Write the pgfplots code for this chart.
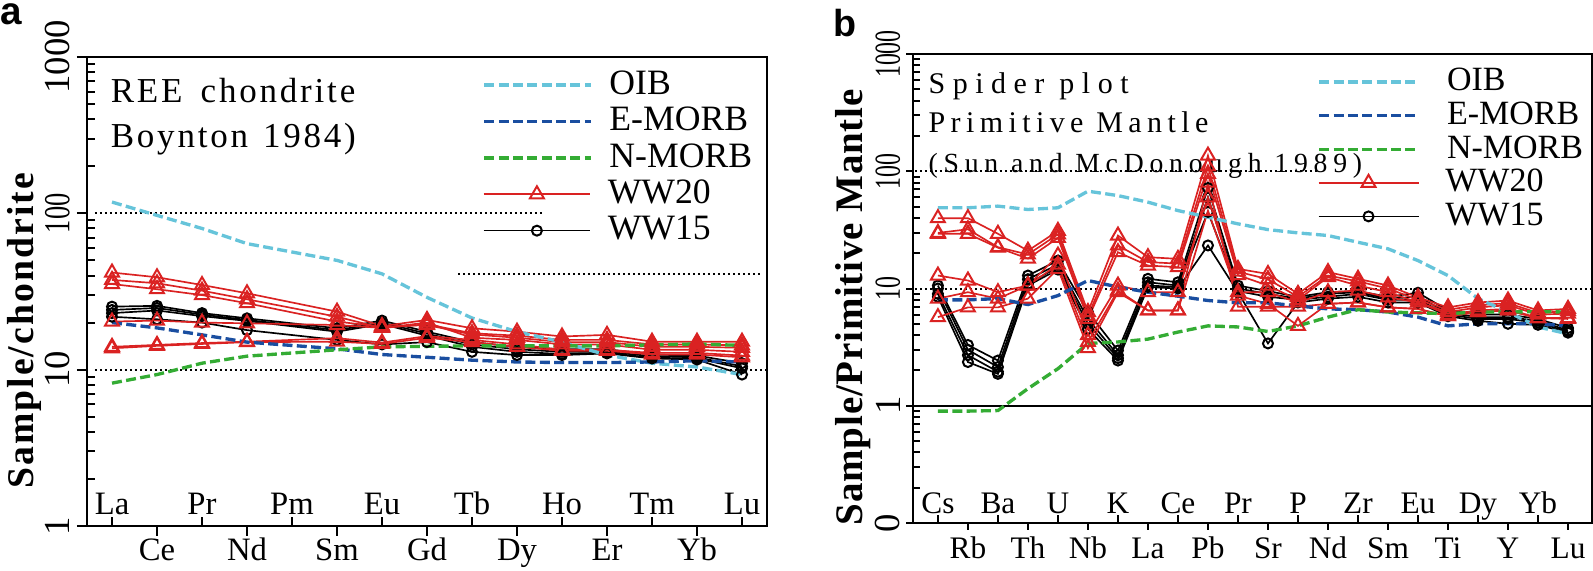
\documentclass[border=0pt]{standalone}
\usepackage{fontspec}
\setmainfont{Liberation Serif}
\newfontfamily\sansb{Liberation Sans}
\newfontfamily\lsA[LetterSpace=8]{Liberation Serif}
\newfontfamily\lsB[LetterSpace=18]{Liberation Serif}
\newfontfamily\lsBB[LetterSpace=25]{Liberation Serif}
\newfontfamily\lsBs[LetterSpace=21]{Liberation Serif}
\newfontfamily\lsYa[LetterSpace=5.5]{Liberation Serif}
\newfontfamily\lsYb[LetterSpace=2]{Liberation Serif}
\usepackage{graphicx}
\usepackage{pgfplots}
\pgfplotsset{compat=1.18}
\definecolor{oib}{RGB}{102,196,218}
\definecolor{emorb}{RGB}{26,78,160}
\definecolor{nmorb}{RGB}{52,172,52}
\definecolor{wwred}{RGB}{218,34,34}
\tikzset{
 refline/.style={line width=1pt, dash pattern=on 3pt off 1.3pt},
 oibs/.style={refline, color=oib},
 emorbs/.style={refline, color=emorb},
 nmorbs/.style={refline, color=nmorb},
 ww20/.style={color=wwred, line width=0.5pt, mark=triangle, mark size=2.4pt, mark options={solid, line width=0.6pt}},
 ww15/.style={color=black, line width=0.5pt, mark=o, mark size=1.5pt, mark options={solid, line width=0.6pt}},
 gdot/.style={black, line width=0.6pt, dash pattern=on 0.6pt off 0.9pt},
}
\pgfplotsset{
 mybase/.style={
  scale only axis, anchor=south west,
  axis line style={line width=0.75pt},
  tick style={black, line width=0.6pt},
  tick align=outside, xtick pos=bottom, ytick pos=left,
  yminorticks=false,
  /pgf/number format/assume math mode=true,
  major tick length=3pt,
 },
 legaxA/.style={at={(26.1pt,13.2pt)}, anchor=south west, scale only axis, width=204pt, height=140.7pt,
   hide axis, xmin=0, xmax=1, ymin=0, ymax=1, legend cell align=left,
   legend style={at={(axis description cs:0.581,#1)}, anchor=west, draw=none, fill=none, inner sep=0pt,
     font=\fontsize{10.7}{12}\selectfont, nodes={inner sep=0pt},
     /tikz/every odd column/.append style={column sep=5pt}},
   legend image code/.code={\draw[mark repeat=2,mark phase=2,##1] plot coordinates {(0pt,0pt) (16pt,0pt) (32pt,0pt)};}},
 legaxB/.style={at={(273.9pt,14.1pt)}, anchor=south west, scale only axis, width=203.7pt, height=140.7pt,
   hide axis, xmin=0, xmax=1, ymin=0, ymax=1, legend cell align=left,
   legend style={at={(axis description cs:0.595,#1)}, anchor=west, draw=none, fill=none, inner sep=0pt,
     font=\fontsize{10.2}{11}\selectfont, nodes={inner sep=0pt},
     /tikz/every odd column/.append style={column sep=7.8pt}},
   legend image code/.code={\draw[mark repeat=2,mark phase=2,##1] plot coordinates {(0pt,0pt) (15pt,0pt) (30pt,0pt)};}},
}
\begin{document}
\begin{tikzpicture}
\useasboundingbox (0,0) rectangle (477.9pt,171pt);
% panel labels
\node[anchor=base west, inner sep=0pt, text height=6pt, font=\sansb\bfseries\fontsize{11.6}{12}\selectfont] at (0pt,163.6pt) {a};
\node[anchor=base west, inner sep=0pt, text height=8pt, font=\sansb\bfseries\fontsize{11.3}{12}\selectfont] at (249.9pt,159.9pt) {b};

% ---------------- panel a ----------------
\begin{axis}[mybase, ymode=log,
 at={(26.1pt,13.2pt)}, width=204pt, height=140.7pt,
 xmin=-0.556, xmax=14.556, ymin=1, ymax=1000,
 ytick={1,10,100,1000}, yticklabels={1,10,\scalebox{0.72}[1]{100},1000},
 yticklabel style={rotate=90, anchor=south, font=\fontsize{11}{12}\selectfont, inner sep=2pt},
 extra y ticks={2,3,4,5,6,7,8,9,20,30,40,50,60,70,80,90,200,300,400,500,600,700,800,900},
 extra y tick labels={},
 extra y tick style={tick align=inside, major tick length=2.4pt},
 xtick={1,3,5,7,9,11,13}, xticklabels={Ce,Nd,Sm,Gd,Dy,Er,Yb},
 xticklabel style={anchor=base, yshift=-7.5pt, font=\fontsize{9.8}{11}\selectfont},
 extra x ticks={0,2,4,6,8,10,12,14}, extra x tick labels={La,Pr,Pm,Eu,Tb,Ho,Tm,Lu},
 extra x tick style={tick align=inside, major tick length=2.7pt, xticklabel style={yshift=11.1pt}},
 ylabel={Sample/chondrite},
 every axis y label/.style={at={(axis description cs:-0.0794,0.416)}, rotate=90, anchor=base, font=\lsYa\bfseries\fontsize{11.3}{12}\selectfont},
]
\draw[gdot] (axis cs:-0.38,10) -- (axis cs:14.55,10);
\draw[gdot] (axis cs:-0.38,100) -- (axis cs:9.58,100);
\draw[gdot] (axis cs:7.69,40.9) -- (axis cs:14.44,40.9);

% WW15
\addplot[ww15] coordinates {(0,25.3) (1,25.6) (2,23) (3,21.3) (5,18.4) (6,20.6) (7,17.5) (8,15) (9,14) (10,13.5) (11,13.5) (12,12.5) (13,12.3) (14,11)};
\addplot[ww15] coordinates {(0,24.1) (1,24.8) (2,22.5) (3,20.8) (5,17.9) (6,20) (7,17) (8,14.5) (9,13.5) (10,13) (11,13) (12,12.2) (13,12) (14,10.5)};
\addplot[ww15] coordinates {(0,23) (1,23.9) (2,22) (3,20.5) (5,17.5) (6,19.6) (7,16.5) (8,14) (9,13) (10,12.6) (11,12.8) (12,11.9) (13,11.8) (14,10.2)};
\addplot[ww15] coordinates {(0,21.8) (1,21) (2,20) (3,17.9) (5,15.5) (6,14.5) (7,15) (8,13) (9,12.4) (10,12.4) (11,12.7) (12,11.8) (13,11.6) (14,9.3)};
% WW20
\addplot[ww20] coordinates {(0,41.8) (1,39) (2,34.8) (3,30.8) (5,23.5) (6,19) (7,20.8) (8,18.4) (9,17.5) (10,16.3) (11,16.7) (12,15.1) (13,15.1) (14,15.1)};
\addplot[ww20] coordinates {(0,37.5) (1,35.7) (2,32) (3,28.2) (5,21.8) (6,18.5) (7,19.5) (8,17.1) (9,16.5) (10,15.5) (11,15.5) (12,14.5) (13,14.5) (14,14.3)};
\addplot[ww20] coordinates {(0,35.3) (1,32.7) (2,30) (3,26.6) (5,20.3) (6,18.8) (7,19.3) (8,16.8) (9,16) (10,15) (11,15) (12,14) (13,14) (14,13.8)};
\addplot[ww20] coordinates {(0,20.3) (1,20.6) (2,20) (3,19.8) (5,19.3) (6,18.5) (7,20) (8,16) (9,15.5) (10,14.5) (11,14.5) (12,13.4) (13,13.4) (14,13)};
\addplot[ww20] coordinates {(0,14.0) (1,14.4) (2,14.8) (3,15.1) (5,15.9) (6,14.9) (7,16.4) (8,15.5) (9,14.5) (10,13.4) (11,13.4) (12,12.8) (13,12.8) (14,12.3)};
\addplot[ww20] coordinates {(0,13.7) (1,14.2) (2,14.6) (3,15.0) (5,15.1) (6,14.6) (7,16) (8,15) (9,14) (10,13.2) (11,13.2) (12,12.5) (13,12.5) (14,12)};
% references
\addplot[oibs] coordinates {(0,118) (1,97) (2,80) (3,64) (5,50) (6,41) (7,29) (8,21.4) (9,17.5) (10,15) (11,12.4) (12,11) (13,10.4) (14,9.3)};
\addplot[emorbs] coordinates {(0,20) (1,18.5) (2,16.7) (3,15) (5,13.6) (6,12.5) (7,12) (8,11.5) (9,11.2) (10,11.1) (11,11.1) (12,11.2) (13,11.4) (14,11.2)};
\addplot[nmorbs] coordinates {(0,8.2) (1,9.3) (2,11) (3,12.2) (5,13.4) (6,14) (7,14.1) (8,14.2) (9,14.2) (10,14.2) (11,14.2) (12,14.4) (13,14.6) (14,14.3)};

\node[anchor=base west, inner sep=0pt, font=\lsA\fontsize{10.5}{12}\selectfont] at (axis description cs:0.034,0.902) {REE\hspace{2pt} chondrite};
\node[anchor=base west, inner sep=0pt, font=\lsA\fontsize{10.5}{12}\selectfont] at (axis description cs:0.034,0.808) {Boynton\hspace{1pt} 1984)};
\end{axis}
% legend a (one entry per hidden axis, to fix row positions)
\begin{axis}[legaxA=0.940]\addlegendimage{oibs}\addlegendentry{OIB}\end{axis}
\begin{axis}[legaxA=0.8624]\addlegendimage{emorbs}\addlegendentry{E-MORB}\end{axis}
\begin{axis}[legaxA=0.7849]\addlegendimage{nmorbs}\addlegendentry{N-MORB}\end{axis}
\begin{axis}[legaxA=0.7073]\addlegendimage{ww20}\addlegendentry{WW20}\end{axis}
\begin{axis}[legaxA=0.6297]\addlegendimage{ww15}\addlegendentry{WW15}\end{axis}

% ---------------- panel b ----------------
\begin{axis}[mybase, ymode=log,
 at={(273.9pt,14.1pt)}, width=203.7pt, height=140.7pt,
 xmin=-0.83, xmax=21.8, ymin=0.1, ymax=1000,
 major tick length=2.1pt,
 ytick={0.1,1,10,100,1000}, yticklabels={0,1,\scalebox{0.65}[1]{10},\scalebox{0.65}[1]{100},\scalebox{0.65}[1]{1000}},
 yticklabel style={rotate=90, anchor=south, font=\fontsize{11}{12}\selectfont, inner sep=1.5pt},
 extra y ticks={0.2,0.3,0.4,0.5,0.6,0.7,0.8,0.9,2,3,4,5,6,7,8,9,20,30,40,50,60,70,80,90,200,300,400,500,600,700,800,900},
 extra y tick labels={},
 extra y tick style={tick align=inside, major tick length=2.1pt},
 xtick={1,3,5,7,9,11,13,15,17,19,21}, xticklabels={Rb,Th,Nb,La,Pb,Sr,Nd,Sm,Ti,Y,Lu},
 xticklabel style={anchor=base, yshift=-8.7pt, font=\fontsize{9.4}{11}\selectfont},
 extra x ticks={0,2,4,6,8,10,12,14,16,18,20}, extra x tick labels={Cs,Ba,U,K,Ce,Pr,P,Zr,Eu,Dy,Yb},
 extra x tick style={tick align=inside, major tick length=2.4pt, xticklabel style={yshift=11.7pt}},
 ylabel={Sample/Primitive Mantle},
 every axis y label/.style={at={(axis description cs:-0.0751,0.46)}, rotate=90, anchor=base, font=\lsYb\bfseries\fontsize{11.7}{12}\selectfont},
]
\draw[gdot] (axis cs:-0.77,10) -- (axis cs:21.8,10);
\draw[gdot] (axis cs:-0.77,100) -- (axis cs:12.63,100);
\draw[black, line width=0.6pt] (axis cs:-0.83,1) -- (axis cs:21.8,1);

% WW15
\addplot[ww15] coordinates {(0,10.6) (1,3.3) (2,2.43) (3,12.9) (4,17.3) (5,6.3) (6,2.96) (7,12.1) (8,11.3) (9,72) (10,10.6) (11,9.5) (12,8.5) (13,9.3) (14,9.5) (15,8.5) (16,9.2) (17,6.5) (18,6.0) (19,6.0) (20,5.5) (21,4.6)};
\addplot[ww15] coordinates {(0,10.0) (1,3.0) (2,2.14) (3,12.0) (4,16) (5,5.5) (6,2.7) (7,11.3) (8,10.6) (9,60) (10,10.0) (11,9.0) (12,8.2) (13,9.0) (14,9.3) (15,8.2) (16,8.5) (17,6.2) (18,5.7) (19,5.7) (20,5.3) (21,4.4)};
\addplot[ww15] coordinates {(0,9.0) (1,2.7) (2,1.95) (3,11.0) (4,15.2) (5,5.0) (6,2.55) (7,10.6) (8,10.3) (9,45) (10,9.5) (11,8.5) (12,8.0) (13,8.5) (14,9.0) (15,8.0) (16,8.0) (17,6.0) (18,5.5) (19,5.5) (20,5.1) (21,4.3)};
\addplot[ww15] coordinates {(0,8.5) (1,2.36) (2,1.87) (3,10.6) (4,14.5) (5,4.5) (6,2.43) (7,10.3) (8,10.0) (9,23.3) (10,9.3) (11,3.4) (12,7.6) (13,8.2) (14,8.5) (15,7.6) (16,7.6) (17,5.8) (18,5.3) (19,5.0) (20,4.9) (21,4.2)};
% WW20
\addplot[ww20] coordinates {(0,39.8) (1,39.8) (2,29.3) (3,21) (4,31) (5,6.3) (6,28.3) (7,18.5) (8,17.9) (9,136) (10,14.7) (11,13.3) (12,9.0) (13,13.8) (14,12.1) (15,10.6) (16,8.4) (17,6.9) (18,7.6) (19,7.9) (20,6.5) (21,6.7)};
\addplot[ww20] coordinates {(0,29.8) (1,32) (2,22.5) (3,19.5) (4,29) (5,5.8) (6,23.3) (7,16.8) (8,16.3) (9,110) (10,13.9) (11,12.0) (12,8.5) (13,12.9) (14,11.5) (15,10.0) (16,8.0) (17,6.6) (18,7.2) (19,7.5) (20,6.2) (21,6.4)};
\addplot[ww20] coordinates {(0,29.3) (1,29.3) (2,22.3) (3,18) (4,27) (5,5.5) (6,20.4) (7,15.7) (8,15.2) (9,95) (10,13.0) (11,10.6) (12,8.0) (13,12.5) (14,10.6) (15,9.3) (16,7.6) (17,6.3) (18,6.9) (19,7.2) (20,6.0) (21,6.1)};
\addplot[ww20] coordinates {(0,12.9) (1,11.7) (2,9.3) (3,10.6) (4,19.1) (5,4.0) (6,10.6) (7,9.3) (8,9.3) (9,60) (10,9.3) (11,9.3) (12,7.6) (13,9.3) (14,9.6) (15,8.4) (16,7.6) (17,6.0) (18,6.5) (19,6.7) (20,5.6) (21,5.6)};
\addplot[ww20] coordinates {(0,8.2) (1,9.3) (2,8.2) (3,10.6) (4,16) (5,3.5) (6,9.6) (7,6.5) (8,6.5) (9,46) (10,8.7) (11,7.4) (12,4.8) (13,7.4) (14,7.6) (15,6.9) (16,6.7) (17,5.8) (18,6.3) (19,6.5) (20,5.6) (21,5.5)};
\addplot[ww20] coordinates {(0,5.7) (1,6.9) (2,6.9) (3,8.2) (4,14.7) (5,3.1) (6,9.3) (7,6.5) (8,6.5) (9,80) (10,7.0) (11,7.0) (12,7.0) (13,7.4) (14,7.6) (15,6.9) (16,6.7) (17,5.8) (18,6.3) (19,6.5) (20,5.6) (21,5.6)};
% references
\addplot[oibs] coordinates {(0,48.8) (1,48.8) (2,50.4) (3,47.2) (4,48.8) (5,67.6) (6,62) (7,54.5) (8,46.2) (9,40.6) (10,35.6) (11,31.8) (12,29.8) (13,28.3) (14,24.8) (15,21.8) (16,17.3) (17,12.9) (18,8.2) (19,6.3) (20,4.7) (21,4.1)};
\addplot[emorbs] coordinates {(0,8.0) (1,8.0) (2,8.2) (3,7.3) (4,8.7) (5,11.7) (6,10.3) (7,9.3) (8,8.6) (9,7.9) (10,7.55) (11,7.55) (12,7.1) (13,6.7) (14,6.6) (15,6.3) (16,5.7) (17,4.8) (18,5.0) (19,5.0) (20,5.0) (21,4.8)};
\addplot[nmorbs] coordinates {(0,0.9) (1,0.9) (2,0.91) (3,1.4) (4,2.07) (5,3.4) (6,3.5) (7,3.7) (8,4.25) (9,4.8) (10,4.7) (11,4.3) (12,4.8) (13,5.7) (14,6.6) (15,6.3) (16,6.2) (17,6.1) (18,6.3) (19,6.3) (20,6.35) (21,6.3)};

\node[anchor=base west, inner sep=0pt, font=\lsBB\fontsize{9}{11}\selectfont] at (axis description cs:0.022,0.915) {Spider plot};
\node[anchor=base west, inner sep=0pt, font=\lsB\fontsize{9}{11}\selectfont] at (axis description cs:0.022,0.832) {Primitive Mantle};
\node[anchor=base west, inner sep=0pt, font=\lsBs\fontsize{8.3}{9}\selectfont] at (axis description cs:0.022,0.748) {(Sun and McDonough 1989)};
\end{axis}
% legend b
\begin{axis}[legaxB=0.940]\addlegendimage{oibs}\addlegendentry{OIB}\end{axis}
\begin{axis}[legaxB=0.8684]\addlegendimage{emorbs}\addlegendentry{E-MORB}\end{axis}
\begin{axis}[legaxB=0.7968]\addlegendimage{nmorbs}\addlegendentry{N-MORB}\end{axis}
\begin{axis}[legaxB=0.7253]\addlegendimage{ww20}\addlegendentry{WW20}\end{axis}
\begin{axis}[legaxB=0.6537]\addlegendimage{ww15}\addlegendentry{WW15}\end{axis}
\end{tikzpicture}
\end{document}
